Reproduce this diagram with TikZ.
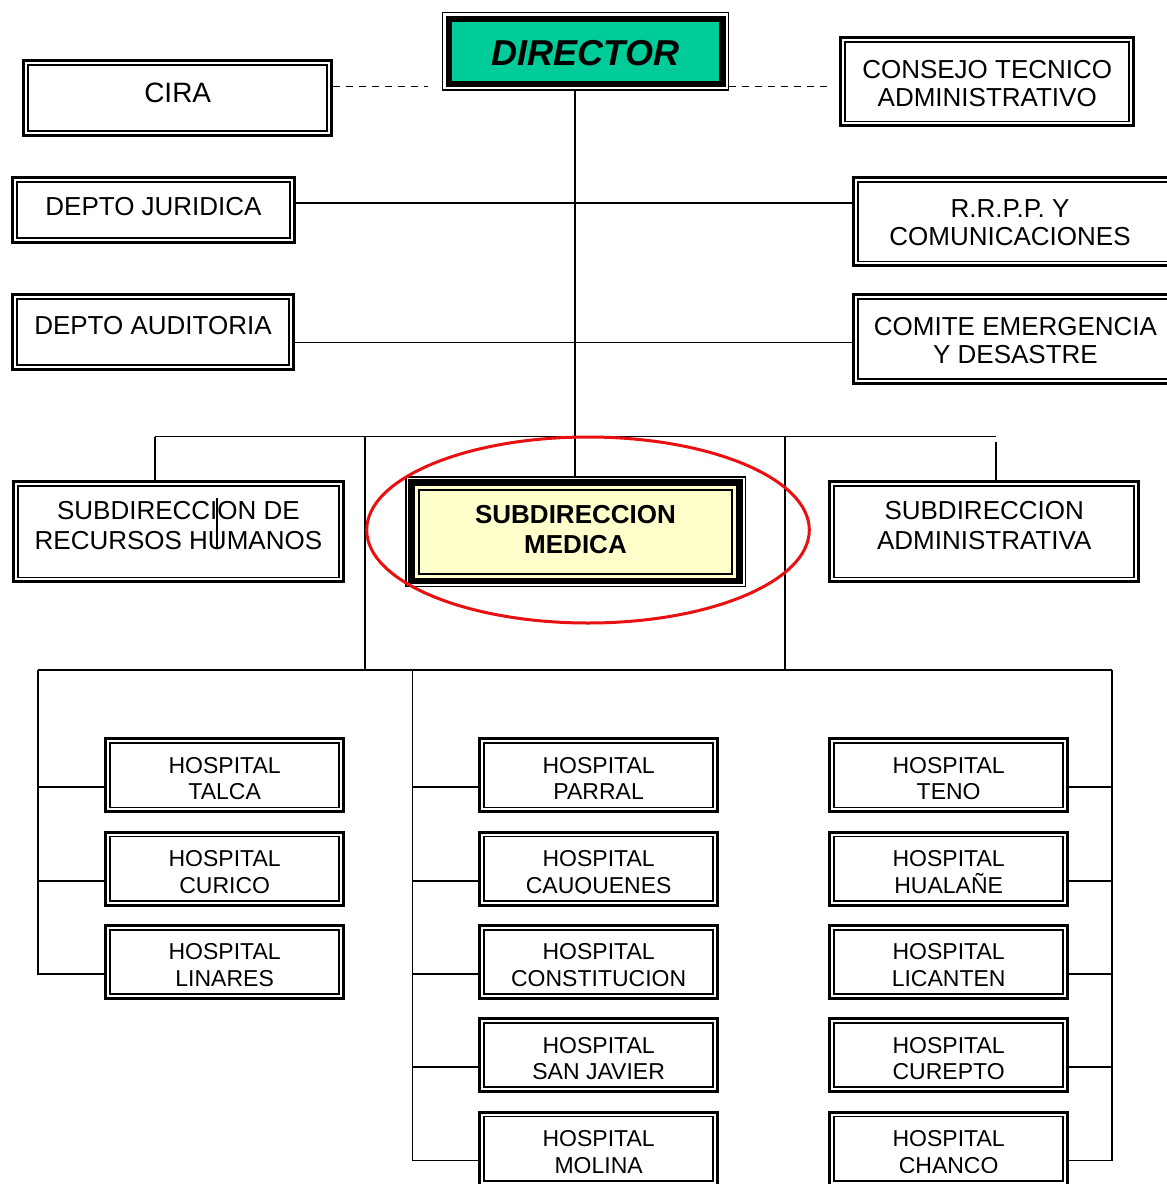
\documentclass[tikz,border=0pt]{standalone}
\usepackage{fontspec}
\setmainfont{Liberation Sans}
\definecolor{dirgreen}{RGB}{0,204,153}
\definecolor{medyellow}{RGB}{255,255,204}
\definecolor{ellred}{RGB}{232,16,16}
\newcommand\twol[2]{\vtop{\halign{\hfil##\hfil\cr#1\cr#2\cr}}}
\tikzset{
  conn/.style={line width=1.8pt},
  dashconn/.style={line width=1.8pt, dash pattern=on 7pt off 6pt},
  dbox/.style={draw, line width=3pt, fill=white, inner sep=0pt,
    path picture={\draw[line width=1.8pt]
      ([shift={(4.4pt,-4.4pt)}]path picture bounding box.north west) rectangle
      ([shift={(-4.4pt,4.4pt)}]path picture bounding box.south east);}},
  ftop/.style={font=\fontsize{26pt}{28pt}\selectfont},
  fsub/.style={font=\fontsize{26pt}{30pt}\selectfont},
  fhosp/.style={font=\fontsize{23pt}{26.6pt}\selectfont},
  hbox/.style={dbox, fhosp, minimum width=237.7pt, minimum height=73pt,
    text height=18pt, text depth=22pt},
  dirbox/.style={draw, line width=1.5pt, fill=white, inner sep=0pt,
    font=\fontsize{36pt}{40pt}\selectfont\bfseries\itshape,
    path picture={
      \fill[black] ([shift={(3pt,-3pt)}]path picture bounding box.north west) rectangle
        ([shift={(-3pt,3pt)}]path picture bounding box.south east);
      \fill[dirgreen] ([shift={(9.5pt,-9.5pt)}]path picture bounding box.north west) rectangle
        ([shift={(-9.5pt,9.5pt)}]path picture bounding box.south east);}},
  medbox/.style={draw, line width=1.5pt, fill=white, inner sep=0pt,
    font=\fontsize{26pt}{30pt}\selectfont\bfseries,
    path picture={
      \fill[black] ([shift={(2.7pt,-2.7pt)}]path picture bounding box.north west) rectangle
        ([shift={(-2.7pt,2.7pt)}]path picture bounding box.south east);
      \fill[medyellow] ([shift={(9pt,-9pt)}]path picture bounding box.north west) rectangle
        ([shift={(-9pt,9pt)}]path picture bounding box.south east);
      \draw[line width=2pt] ([shift={(13pt,-13pt)}]path picture bounding box.north west) rectangle
        ([shift={(-13pt,13pt)}]path picture bounding box.south east);}},
}
\newcommand\hosp[4]{%
  \node[hbox] (#1) at (#2,#3) {\twol{HOSPITAL}{#4}};
  \fill[white] ([shift={(6.8pt,6.8pt)}]#1.south west) rectangle ([shift={(-6.8pt,13.1pt)}]#1.south east);
}
\begin{document}
\begin{tikzpicture}[x=1pt,y=-1pt]
\useasboundingbox[fill=white] (0,0) rectangle (1167,1184);

% top row
\node[dirbox, minimum width=286pt, minimum height=77.5pt, text height=33.75pt, text depth=6.25pt]
  (director) at (585.5,51.25) {DIRECTOR};
\node[dbox, font=\fontsize{28pt}{30pt}\selectfont, minimum width=307.7pt, minimum height=74.7pt,
  text height=24.1pt, text depth=15.9pt] (cira) at (177.7,98.2) {CIRA};
\node[dbox, ftop, minimum width=292.7pt, minimum height=88.3pt, text height=16.6pt, text depth=23.4pt]
  (consejo) at (987.2,81.7) {\twol{CONSEJO TECNICO}{ADMINISTRATIVO}};

% staff
\node[dbox, ftop, minimum width=282pt, minimum height=65pt, text height=25pt, text depth=15pt]
  (juridica) at (153.5,210) {DEPTO JURIDICA};
\node[dbox, ftop, minimum width=281pt, minimum height=74.4pt, text height=22pt, text depth=18pt]
  (auditoria) at (153,332) {DEPTO AUDITORIA};
\node[dbox, ftop, minimum width=330.3pt, minimum height=88.3pt, text height=15.6pt, text depth=24.4pt]
  (rrpp) at (1018.35,221.7) {\twol{R.R.P.P. Y}{COMUNICACIONES}\kern16.7pt};
\node[dbox, ftop, minimum width=330.3pt, minimum height=88.7pt, text height=15.8pt, text depth=24.2pt]
  (comite) at (1018.35,339.2) {\twol{COMITE EMERGENCIA}{Y DESASTRE}\kern5.7pt};

% subdirecciones
\node[dbox, fsub, minimum width=330.3pt, minimum height=100.3pt, text height=7.3pt, text depth=32.7pt]
  (rrhh) at (178.4,531.7) {\twol{SUBDIRECCION DE}{RECURSOS HUMANOS}};
\node[medbox, minimum width=339.5pt, minimum height=109.8pt, text height=11.65pt, text depth=28.35pt]
  (medica) at (575.5,531.65) {\twol{SUBDIRECCION}{MEDICA}};
\node[dbox, fsub, minimum width=308.7pt, minimum height=100.3pt, text height=7.3pt, text depth=32.7pt]
  (admin) at (984.2,531.7) {\twol{SUBDIRECCION}{ADMINISTRATIVA}};

% hospitals
\hosp{talca}{224.65}{775.3}{TALCA}
\hosp{curico}{224.65}{868.6}{CURICO}
\hosp{linares}{224.65}{961.9}{LINARES}
\hosp{parral}{598.65}{775.3}{PARRAL}
\hosp{cauquenes}{598.65}{868.6}{CAUQUENES}
\hosp{constitucion}{598.65}{961.9}{CONSTITUCION}
\hosp{sanjavier}{598.65}{1055.2}{SAN JAVIER}
\hosp{molina}{598.65}{1148.5}{MOLINA}
\hosp{teno}{948.65}{775.3}{TENO}
\hosp{hualane}{948.65}{868.6}{HUALAÑE}
\hosp{licanten}{948.65}{961.9}{LICANTEN}
\hosp{curepto}{948.65}{1055.2}{CUREPTO}
\hosp{chanco}{948.65}{1148.5}{CHANCO}

% coordinates
\coordinate (mainx) at (575,0);
\coordinate (jy) at (575,203);
\coordinate (ay) at (575,342.5);
\coordinate (dl) at (428,86.5);
\coordinate (dr) at (830,86.5);
\coordinate (barL) at (155,436.5);
\coordinate (barR) at (996,436.5);
\coordinate (admtop) at (996,442);
\coordinate (bL) at (365,436.5);
\coordinate (bR) at (785,436.5);
\coordinate (tL) at (38,670);
\coordinate (tM) at (412.5,670);
\coordinate (tR) at (1112.3,670);
\coordinate (strayA) at (217,498.3);
\coordinate (strayB) at (217,548.3);

% dashed links
\draw[dashconn] (cira.east |- dl) -- (dl);
\draw[dashconn] (director.east |- dr) -- (dr);

% main connectors
\draw[conn] (mainx |- director.south) -- (mainx |- medica.north);
\draw[conn] (juridica.east |- jy) -- (rrpp.west |- jy);
\draw[conn] (auditoria.east |- ay) -- (comite.west |- ay);
\draw[conn] (barL) -- (barR);
\draw[conn] (barL) -- (barL |- rrhh.north);
\draw[conn] (admtop) -- (admtop |- admin.north);
\draw[line width=1.3pt] (strayA) -- (strayB);
\draw[conn] (bL) -- (bL |- tL);
\draw[conn] (bR) -- (bR |- tR);
\draw[conn] (tL) -- (tR);

% hospital hooks
\foreach \h in {talca,curico,linares,parral,cauquenes,constitucion,sanjavier,molina}
  \coordinate (\h-h) at ([yshift=-12pt]\h.west);
\foreach \h in {teno,hualane,licanten,curepto,chanco}
  \coordinate (\h-h) at ([yshift=-12pt]\h.east);
\draw[conn] (tL) |- (linares-h);
\draw[conn] (tM) |- (molina-h);
\draw[conn] (tR) |- (chanco-h);
\foreach \h in {talca,curico} \draw[conn] (\h-h) -- (tL |- \h-h);
\foreach \h in {parral,cauquenes,constitucion,sanjavier} \draw[conn] (\h-h) -- (tM |- \h-h);
\foreach \h in {teno,hualane,licanten,curepto} \draw[conn] (\h-h) -- (tR |- \h-h);

% highlight
\draw[ellred, line width=3pt] (588,530) ellipse [x radius=221.3pt, y radius=93pt];
\end{tikzpicture}
\end{document}
